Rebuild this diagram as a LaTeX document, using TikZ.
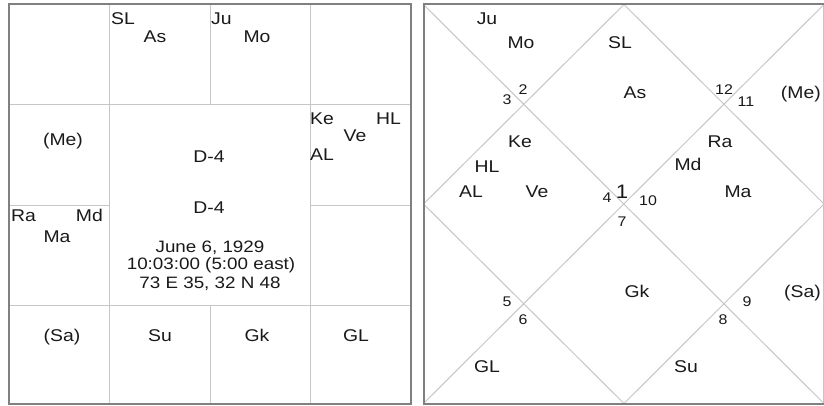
\documentclass[tikz,border=0pt]{standalone}
\usepackage{fontspec}
\newfontfamily\chartfont[FakeStretch=1.14]{Liberation Sans}
\definecolor{bordergray}{HTML}{808080}
\definecolor{gridgray}{HTML}{C6C6C6}
\definecolor{txt}{HTML}{1A1A1A}
\tikzset{
  border/.style={draw=bordergray, line width=2pt},
  gridline/.style={draw=gridgray, line width=1pt},
  lbl/.style={inner sep=0pt, text=txt, font=\chartfont\fontsize{17}{19}\selectfont},
  info/.style={inner sep=0pt, text=txt, font=\chartfont\fontsize{16.5}{18}\selectfont},
  num/.style={inner sep=0pt, text=txt, font=\chartfont\fontsize{14}{15}\selectfont},
  bignum/.style={inner sep=0pt, text=txt, font=\chartfont\fontsize{19.5}{21}\selectfont},
}
\begin{document}
\begin{tikzpicture}[x=1pt,y=-1pt]
\clip (0,0) rectangle (824,406);
\fill[white] (0,0) rectangle (824,406);

% ---------------- Left chart (South Indian) ----------------
\draw[gridline] (8.5,105) -- (410.5,105);
\draw[gridline] (8.5,305.5) -- (410.5,305.5);
\draw[gridline] (8.5,205) -- (109.5,205);
\draw[gridline] (310.5,205) -- (410.5,205);
\draw[gridline] (109.5,4.5) -- (109.5,403.5);
\draw[gridline] (310.5,4.5) -- (310.5,403.5);
\draw[gridline] (210,4.5) -- (210,105);
\draw[gridline] (210,305.5) -- (210,403.5);
\draw[border] (8.5,4.5) rectangle (410.5,403.5);

\node[lbl, anchor=base west] (lSL) at (111,25) {SL};
\node[lbl, anchor=base] (lAs) at (155,43) {As};
\node[lbl, anchor=base west] (lJu) at (211,25) {Ju};
\node[lbl, anchor=base] (lMo) at (257,43) {Mo};
\node[lbl, anchor=base] (lMe) at (63,146) {(Me)};
\node[lbl, anchor=base] (lD1) at (209,163) {D-4};
\node[lbl, anchor=base west] (lKe) at (310,125) {Ke};
\node[lbl, anchor=base east] (lHL) at (401,125) {HL};
\node[lbl, anchor=base] (lVe) at (355,142) {Ve};
\node[lbl, anchor=base west] (lAL) at (310,161) {AL};
\node[lbl, anchor=base] (lD2) at (209,213) {D-4};
\node[lbl, anchor=base west] (lRa) at (11,222) {Ra};
\node[lbl, anchor=base east] (lMd) at (103,222) {Md};
\node[lbl, anchor=base] (lMa) at (57,242) {Ma};
\node[info, anchor=base] (lDate) at (210,252) {June 6, 1929};
\node[info, anchor=base] (lTime) at (211,269.5) {10:03:00 (5:00 east)};
\node[info, anchor=base] (lPlace) at (210,288) {73 E 35, 32 N 48};
\node[lbl, anchor=base] (lSa) at (62,341) {(Sa)};
\node[lbl, anchor=base] (lSu) at (160,341) {Su};
\node[lbl, anchor=base] (lGk) at (257,341) {Gk};
\node[lbl, anchor=base] (lGL) at (356,341) {GL};

% ---------------- Right chart (North Indian) ----------------
\draw[gridline] (423.5,4.5) -- (824,403.5);
\draw[gridline] (824,4.5) -- (423.5,403.5);
\draw[gridline] (624,4.5) -- (824,204) -- (624,403.5) -- (423.5,204) -- cycle;
\draw[gridline] (823.5,4.5) -- (823.5,403.5);
\draw[border] (826,4.5) -- (423.5,4.5) -- (423.5,403.5) -- (826,403.5);

\node[lbl, anchor=base] (rJu) at (487,25) {Ju};
\node[lbl, anchor=base] (rMo) at (521,49) {Mo};
\node[lbl, anchor=base] (rSL) at (620,49) {SL};
\node[lbl, anchor=base] (rAs) at (635,99) {As};
\node[num, anchor=base] (r3) at (507,105) {3};
\node[num, anchor=base] (r2) at (523,95) {2};
\node[num, anchor=base] (r12) at (724,95) {12};
\node[num, anchor=base] (r11) at (746,107) {11};
\node[lbl, anchor=base east] (rMe) at (821,99) {(Me)};
\node[lbl, anchor=base] (rKe) at (520,148) {Ke};
\node[lbl, anchor=base] (rHL) at (487,173) {HL};
\node[lbl, anchor=base] (rAL) at (471,197) {AL};
\node[lbl, anchor=base] (rVe) at (537,197) {Ve};
\node[num, anchor=base] (r4) at (607,203) {4};
\node[bignum, anchor=base] (r1) at (622,199) {1};
\node[num, anchor=base] (r10) at (648,205) {10};
\node[lbl, anchor=base] (rRa) at (720,148) {Ra};
\node[lbl, anchor=base] (rMd) at (688,171) {Md};
\node[lbl, anchor=base] (rMa) at (738,197) {Ma};
\node[num, anchor=base] (r7) at (622,226) {7};
\node[num, anchor=base] (r5) at (507,306) {5};
\node[num, anchor=base] (r6) at (523,324) {6};
\node[lbl, anchor=base] (rGk) at (637,297) {Gk};
\node[num, anchor=base] (r9) at (747,306) {9};
\node[num, anchor=base] (r8) at (723,324) {8};
\node[lbl, anchor=base east] (rSa) at (821,297) {(Sa)};
\node[lbl, anchor=base] (rGL) at (487,372) {GL};
\node[lbl, anchor=base] (rSu) at (686,372) {Su};
\end{tikzpicture}
\end{document}
